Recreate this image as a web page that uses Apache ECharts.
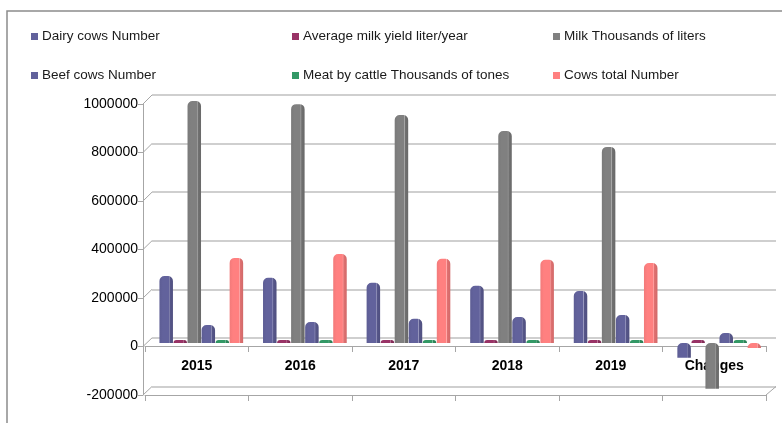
<!DOCTYPE html>
<html>
<head>
<meta charset="utf-8">
<script src="https://cdn.jsdelivr.net/npm/echarts@6/dist/echarts.min.js"></script>
<style>
  html, body { margin: 0; padding: 0; background: #fff; }
  #chart { width: 782px; height: 423px; }
</style>
</head>
<body>
<div id="chart"></div>
<script>
// categories and tick values
const categories = ["2015", "2016", "2017", "2018", "2019", "Changes"];
const yTicks = [-200000, 0, 200000, 400000, 600000, 800000, 1000000];

// series values
const dairyCows = [275000, 268000, 248000, 235000, 214000, -61000];
const avgMilkYield = [3600, 3700, 3650, 3700, 3800, 200];
const milkLiters = [996000, 983000, 938000, 872000, 807000, -189000];
const beefCows = [74000, 86000, 99000, 107000, 115000, 41000];
const meatTonnes = [22, 23, 22, 23, 24, 2];
const cowsTotal = [350000, 366000, 346000, 342000, 329000, -21000];

const seriesNames = [
  "Dairy cows Number",
  "Average milk yield liter/year",
  "Milk Thousands of liters",
  "Beef cows Number",
  "Meat by cattle Thousands of tones",
  "Cows total Number",
];
const seriesData = [dairyCows, avgMilkYield, milkLiters, beefCows, meatTonnes, cowsTotal];
const seriesColors = ["#62629c", "#993366", "#808080", "#62629c", "#339966", "#ff8080"];

const FONT = "'Liberation Sans', Arial, sans-serif";
const AXIS_GREY = "#a6a6a6";

function shade(hex, f) {
  const n = parseInt(hex.slice(1), 16);
  let r = (n >> 16) & 255, g = (n >> 8) & 255, b = n & 255;
  const m = (c) => Math.max(0, Math.min(255, Math.round(f < 0 ? c * (1 + f) : c + (255 - c) * f)));
  return "rgb(" + m(r) + "," + m(g) + "," + m(b) + ")";
}

// cylinder-ish look: flat front face, highlight edge, darker side
function cylinder(color) {
  return new echarts.graphic.LinearGradient(0, 0, 1, 0, [
    { offset: 0, color: shade(color, -0.05) },
    { offset: 0.25, color: color },
    { offset: 0.68, color: color },
    { offset: 0.72, color: shade(color, 0.35) },
    { offset: 0.78, color: shade(color, -0.12) },
    { offset: 1, color: shade(color, -0.18) },
  ]);
}

const chart = echarts.init(document.getElementById("chart"), null, { renderer: "canvas" });

const barSeries = seriesNames.map((name, i) => ({
  name,
  type: "bar",
  xAxisIndex: 2,
  yAxisIndex: 2,
  data: seriesData[i],
  barWidth: 13.5,
  barGap: "4%",
  barMinHeight: i === 1 || i === 4 ? 3 : 0,
  itemStyle: { color: cylinder(seriesColors[i]), borderRadius: [5, 5, 0, 0] },
  z: 5,
}));

const hiddenValueAxis = (gi) => ({
  gridIndex: gi, type: "value", min: -200000, max: 1000000, interval: 200000, show: false,
  splitLine: { show: false },
});

const option = {
  backgroundColor: "#ffffff",
  animation: false,
  legend: {
    data: seriesNames.map((n, i) => ({ name: n, itemStyle: { color: seriesColors[i] } })),
    left: 26,
    top: 18,
    width: 775,
    itemWidth: 7,
    itemHeight: 7,
    itemGap: 12,
    icon: "rect",
    textStyle: { fontFamily: FONT, fontSize: 13.5, color: "#1a1a1a", width: 238, lineHeight: 27, padding: [0, 0, 0, -1] },
  },
  grid: [
    // front axis plane
    { left: 143, right: 16, top: 104, bottom: 28 },
    // back wall
    { left: 152, right: 6, top: 95, bottom: 36.5 },
    // bars, at mid depth
    { left: 149.5, right: 11, top: 100, bottom: 31.5 },
    // front bottom edge (-200000)
    { left: 145, right: 16, top: 104, bottom: 28 },
    // front floor edge (0) with category labels
    { left: 145, right: 16, top: 104, bottom: 77 },
  ],
  xAxis: [
    { gridIndex: 0, type: "category", data: categories, show: false },
    { gridIndex: 1, type: "category", data: categories, show: false },
    { gridIndex: 2, type: "category", data: categories, show: false },
    {
      gridIndex: 3, type: "category", data: categories,
      axisLine: { onZero: false, lineStyle: { color: AXIS_GREY } },
      axisTick: { show: true, length: 6, lineStyle: { color: AXIS_GREY } },
      axisLabel: { show: false },
    },
    {
      gridIndex: 4, type: "category", data: categories,
      axisLine: { onZero: false, lineStyle: { color: AXIS_GREY } },
      axisTick: { show: true, length: 6, lineStyle: { color: AXIS_GREY } },
      axisLabel: { fontFamily: FONT, fontSize: 14, fontWeight: "bold", color: "#000", margin: 13 },
      z: 3,
    },
  ],
  yAxis: [
    {
      gridIndex: 0, type: "value", min: -200000, max: 1000000, interval: 200000,
      axisLine: { show: true, lineStyle: { color: AXIS_GREY } },
      axisTick: { show: true, length: 5, lineStyle: { color: AXIS_GREY } },
      axisLabel: { fontFamily: FONT, fontSize: 14, color: "#000", margin: 5, formatter: (v) => String(v) },
      splitLine: { show: false },
    },
    {
      gridIndex: 1, type: "value", min: -200000, max: 1000000, interval: 200000,
      axisLine: { show: false }, axisTick: { show: false }, axisLabel: { show: false },
      splitLine: { show: true, lineStyle: { color: "#bfbfbf", width: 1.5 } },
    },
    hiddenValueAxis(2),
    hiddenValueAxis(3),
    { gridIndex: 4, type: "value", show: false, splitLine: { show: false } },
  ],
  series: barSeries,
};

chart.setOption(option);

// 3D depth connectors between the front axis and the back wall, plus outer frame
const graphics = [
  {
    type: "rect",
    shape: { x: 7, y: 11, width: 800, height: 500 },
    style: { fill: "none", stroke: "#8c8c8c", lineWidth: 1.5 },
    silent: true,
    z: 0,
  },
];
yTicks.forEach((v) => {
  const yFront = chart.convertToPixel({ yAxisIndex: 0 }, v);
  const yBack = chart.convertToPixel({ yAxisIndex: 1 }, v);
  graphics.push({
    type: "line",
    shape: { x1: 143, y1: yFront, x2: 152, y2: yBack },
    style: { stroke: AXIS_GREY, lineWidth: 1 },
    silent: true,
    z: 1,
  });
});
const yBottomFront = chart.convertToPixel({ yAxisIndex: 0 }, -200000);
const yBottomBack = chart.convertToPixel({ yAxisIndex: 1 }, -200000);
graphics.push({
  type: "line",
  shape: { x1: 766, y1: yBottomFront, x2: 776, y2: yBottomBack },
  style: { stroke: AXIS_GREY, lineWidth: 1 },
  silent: true,
  z: 1,
});
chart.setOption({ graphic: graphics });
</script>
</body>
</html>
